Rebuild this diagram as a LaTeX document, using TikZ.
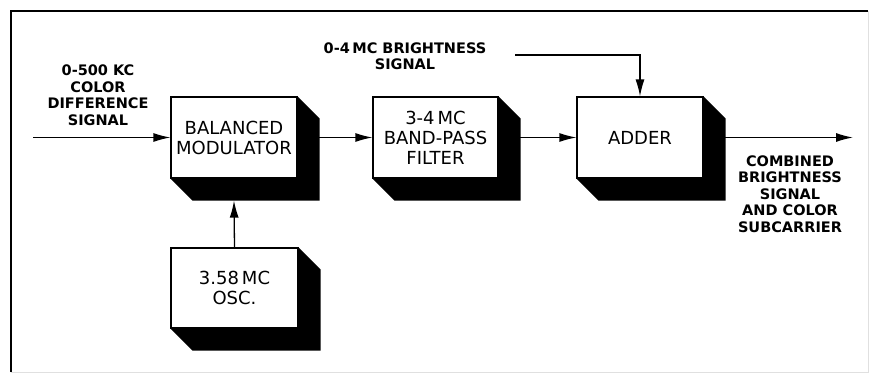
\documentclass[tikz,border=0pt]{standalone}
\usepackage{fontspec}
\setmainfont{DejaVu Sans}
\usetikzlibrary{arrows.meta,calc}
\pgfdeclarelayer{bg}
\pgfdeclarelayer{shade}
\pgfsetlayers{bg,shade,main}
\tikzset{
  blockbox/.style={draw=black, line width=1.2pt, fill=white, minimum width=#1, minimum height=81pt,
    inner sep=0pt, align=center, font=\fontsize{18}{20}\selectfont},
  blockbox/.default=126pt,
  lbl/.style={align=center, font=\bfseries\fontsize{14.5}{16.5}\selectfont, inner sep=0pt},
  conn/.style={line width=1.3pt, -{Latex[length=17pt,width=9pt]}},
}
\newcommand{\blockshade}[1]{%
  \begin{pgfonlayer}{shade}
    \fill[black] (#1.north east) -- ++(22,22) -- ($(#1.south east)+(22,22)$) -- ($(#1.south west)+(22,22)$) -- (#1.south west) -- cycle;
  \end{pgfonlayer}}
\begin{document}
\begin{tikzpicture}[x=1pt,y=-1pt]
\useasboundingbox (0,0) rectangle (873,379);
\begin{pgfonlayer}{bg}
\fill[white] (0,0) rectangle (873,379);
\end{pgfonlayer}
% frame
\draw[line width=2pt] (11,372) -- (11,11) -- (868,11);
\draw[line width=0.8pt, black!12] (868,11) -- (868,372) -- (11,372);
% blocks
\node[blockbox] (mod) at (234,137.5) {BALANCED\\MODULATOR};
\node[blockbox=125pt] (filt) at (435.5,137.5) {3-4\,MC\\BAND-PASS\\FILTER};
\node[blockbox] (add) at (640,137.5) {ADDER};
\node[blockbox=127pt, minimum height=80pt] (osc) at (234.5,288) {3.58\,MC\\OSC.};
\blockshade{mod}
\blockshade{filt}
\blockshade{add}
\blockshade{osc}
% labels
\node[lbl] (lin) at (98,95) {0-500 KC\\COLOR\\DIFFERENCE\\SIGNAL};
\node[lbl] (lbr) at (405,56) {0-4\,MC BRIGHTNESS\\SIGNAL};
\node[lbl] (lout) at (790,194) {COMBINED\\BRIGHTNESS\\SIGNAL\\AND COLOR\\SUBCARRIER};
% connector ends
\coordinate (inS) at (33,137.5);
\coordinate (outE) at (853,137.5);
\coordinate (brS) at (515,55);
\coordinate (brC) at (640,55);
\begin{pgfonlayer}{bg}
\draw[conn] (inS) -- (mod.west);
\draw[conn] (mod.east) -- (filt.west);
\draw[conn] (filt.east) -- (add.west);
\draw[conn] (add.east) -- (outE);
\draw[conn] (brS) -- (brC) -- (add.north);
\draw[conn] (osc.north) -- ($(mod.south)+(0,22)$);
\end{pgfonlayer}
\end{tikzpicture}
\end{document}
